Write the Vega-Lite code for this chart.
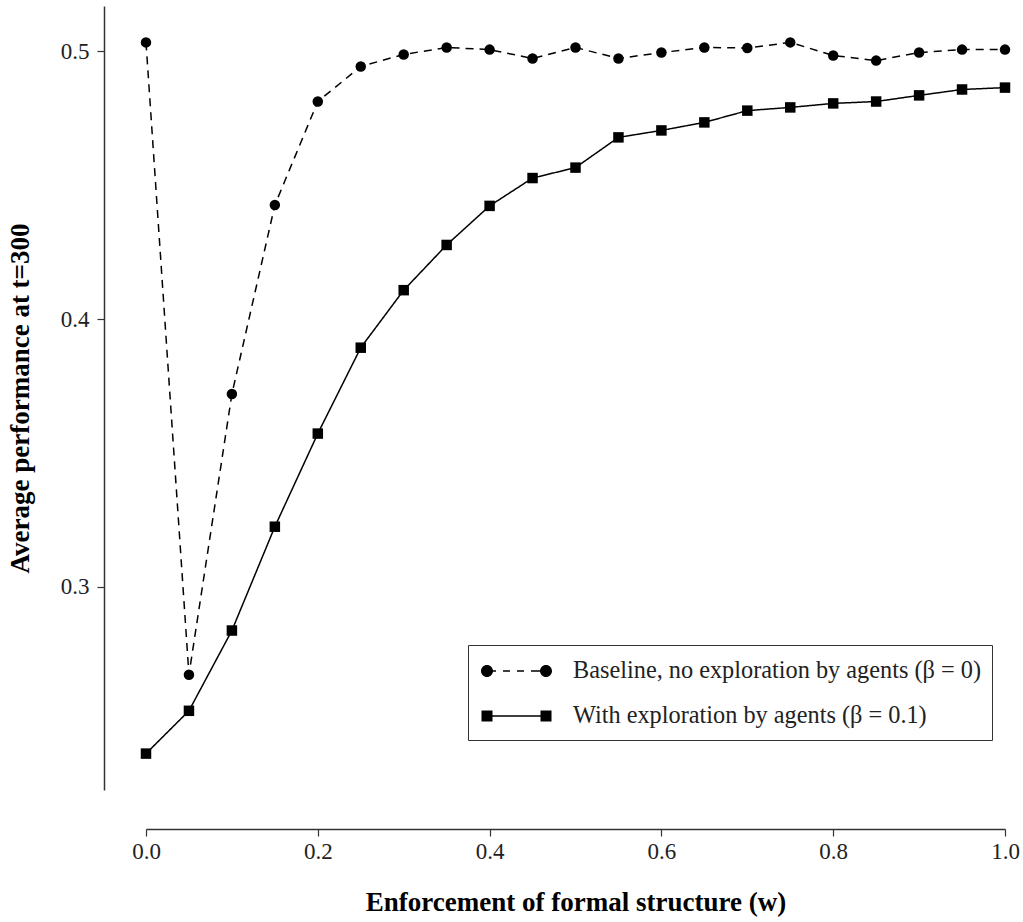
{
  "$schema": "https://vega.github.io/schema/vega-lite/v6.json",
  "width": 859,
  "height": 784,
  "autosize": {"type": "none"},
  "padding": {"left": 146, "top": 6, "right": 18, "bottom": 132},
  "background": "white",
  "config": {
    "view": {"stroke": null},
    "font": "Liberation Serif",
    "axis": {
      "grid": false,
      "domainColor": "#333333",
      "domainWidth": 1.5,
      "tickColor": "#333333",
      "tickWidth": 1.2,
      "tickSize": 7,
      "labelFont": "Liberation Serif",
      "labelFontSize": 23,
      "labelColor": "#222222",
      "labelFlush": false,
      "titleFont": "Liberation Serif",
      "titleFontSize": 27,
      "titleFontWeight": "bold",
      "titleColor": "black"
    }
  },
  "data": {
    "values": [
      {"w": 0.00, "series": "Baseline, no exploration by agents (β = 0)", "perf": 0.5034},
      {"w": 0.05, "series": "Baseline, no exploration by agents (β = 0)", "perf": 0.2671},
      {"w": 0.10, "series": "Baseline, no exploration by agents (β = 0)", "perf": 0.3720},
      {"w": 0.15, "series": "Baseline, no exploration by agents (β = 0)", "perf": 0.4426},
      {"w": 0.20, "series": "Baseline, no exploration by agents (β = 0)", "perf": 0.4813},
      {"w": 0.25, "series": "Baseline, no exploration by agents (β = 0)", "perf": 0.4944},
      {"w": 0.30, "series": "Baseline, no exploration by agents (β = 0)", "perf": 0.4989},
      {"w": 0.35, "series": "Baseline, no exploration by agents (β = 0)", "perf": 0.5015},
      {"w": 0.40, "series": "Baseline, no exploration by agents (β = 0)", "perf": 0.5007},
      {"w": 0.45, "series": "Baseline, no exploration by agents (β = 0)", "perf": 0.4974},
      {"w": 0.50, "series": "Baseline, no exploration by agents (β = 0)", "perf": 0.5015},
      {"w": 0.55, "series": "Baseline, no exploration by agents (β = 0)", "perf": 0.4974},
      {"w": 0.60, "series": "Baseline, no exploration by agents (β = 0)", "perf": 0.4996},
      {"w": 0.65, "series": "Baseline, no exploration by agents (β = 0)", "perf": 0.5015},
      {"w": 0.70, "series": "Baseline, no exploration by agents (β = 0)", "perf": 0.5013},
      {"w": 0.75, "series": "Baseline, no exploration by agents (β = 0)", "perf": 0.5034},
      {"w": 0.80, "series": "Baseline, no exploration by agents (β = 0)", "perf": 0.4985},
      {"w": 0.85, "series": "Baseline, no exploration by agents (β = 0)", "perf": 0.4966},
      {"w": 0.90, "series": "Baseline, no exploration by agents (β = 0)", "perf": 0.4996},
      {"w": 0.95, "series": "Baseline, no exploration by agents (β = 0)", "perf": 0.5007},
      {"w": 1.00, "series": "Baseline, no exploration by agents (β = 0)", "perf": 0.5007},
      {"w": 0.00, "series": "With exploration by agents (β = 0.1)", "perf": 0.2376},
      {"w": 0.05, "series": "With exploration by agents (β = 0.1)", "perf": 0.2536},
      {"w": 0.10, "series": "With exploration by agents (β = 0.1)", "perf": 0.2836},
      {"w": 0.15, "series": "With exploration by agents (β = 0.1)", "perf": 0.3224},
      {"w": 0.20, "series": "With exploration by agents (β = 0.1)", "perf": 0.3572},
      {"w": 0.25, "series": "With exploration by agents (β = 0.1)", "perf": 0.3893},
      {"w": 0.30, "series": "With exploration by agents (β = 0.1)", "perf": 0.4108},
      {"w": 0.35, "series": "With exploration by agents (β = 0.1)", "perf": 0.4277},
      {"w": 0.40, "series": "With exploration by agents (β = 0.1)", "perf": 0.4423},
      {"w": 0.45, "series": "With exploration by agents (β = 0.1)", "perf": 0.4527},
      {"w": 0.50, "series": "With exploration by agents (β = 0.1)", "perf": 0.4566},
      {"w": 0.55, "series": "With exploration by agents (β = 0.1)", "perf": 0.4679},
      {"w": 0.60, "series": "With exploration by agents (β = 0.1)", "perf": 0.4705},
      {"w": 0.65, "series": "With exploration by agents (β = 0.1)", "perf": 0.4735},
      {"w": 0.70, "series": "With exploration by agents (β = 0.1)", "perf": 0.4779},
      {"w": 0.75, "series": "With exploration by agents (β = 0.1)", "perf": 0.4791},
      {"w": 0.80, "series": "With exploration by agents (β = 0.1)", "perf": 0.4806},
      {"w": 0.85, "series": "With exploration by agents (β = 0.1)", "perf": 0.4813},
      {"w": 0.90, "series": "With exploration by agents (β = 0.1)", "perf": 0.4836},
      {"w": 0.95, "series": "With exploration by agents (β = 0.1)", "perf": 0.4858},
      {"w": 1.00, "series": "With exploration by agents (β = 0.1)", "perf": 0.4865}
    ]
  },
  "encoding": {
    "x": {
      "field": "w",
      "type": "quantitative",
      "scale": {"domain": [0, 1], "nice": false, "zero": false},
      "axis": {
        "title": "Enforcement of formal structure (w)",
        "values": [0, 0.2, 0.4, 0.6, 0.8, 1.0],
        "format": ".1f",
        "offset": 39,
        "labelPadding": 4,
        "titlePadding": 26
      }
    },
    "y": {
      "field": "perf",
      "type": "quantitative",
      "scale": {"domain": [0.224, 0.517], "nice": false, "zero": false},
      "axis": {
        "title": "Average performance at t=300",
        "values": [0.3, 0.4, 0.5],
        "format": ".1f",
        "offset": 42,
        "labelPadding": 8,
        "titlePadding": 26
      }
    }
  },
  "resolve": {"scale": {"shape": "independent"}},
  "layer": [
    {
      "mark": {"type": "line", "color": "black", "strokeWidth": 1.5},
      "encoding": {
        "strokeDash": {
          "field": "series",
          "type": "nominal",
          "scale": {
            "domain": ["Baseline, no exploration by agents (β = 0)", "With exploration by agents (β = 0.1)"],
            "range": [[8, 6], [1, 0]]
          },
          "legend": null
        }
      }
    },
    {
      "mark": {"type": "point", "filled": true, "color": "black", "opacity": 1, "size": 110},
      "encoding": {
        "shape": {
          "field": "series",
          "type": "nominal",
          "scale": {
            "domain": ["Baseline, no exploration by agents (β = 0)", "With exploration by agents (β = 0.1)"],
            "range": ["circle", "square"]
          },
          "legend": null
        }
      }
    },
    {
      "mark": {"type": "point", "filled": true, "color": "black", "opacity": 0},
      "encoding": {
        "shape": {
          "field": "series",
          "type": "nominal",
          "scale": {
            "domain": ["Baseline, no exploration by agents (β = 0)", "With exploration by agents (β = 0.1)"],
            "range": [
              "M-0.867,0A0.4,0.4 0 1,1 -0.067,0A0.4,0.4 0 1,1 -0.867,0Z M-0.467,-0.05H0.133V0.05H-0.467Z M0.6,-0.05H1.067V0.05H0.6Z M1.533,-0.05H2V0.05H1.533Z M2.467,-0.05H3.467V0.05H2.467Z M3.067,0A0.4,0.4 0 1,1 3.867,0A0.4,0.4 0 1,1 3.067,0Z",
              "M-0.834,-0.367H-0.1V0.367H-0.834Z M-0.467,-0.05H3.467V0.05H-0.467Z M3.1,-0.367H3.834V0.367H3.1Z"
            ]
          },
          "legend": {
            "title": null,
            "orient": "none",
            "legendX": 322,
            "legendY": 639,
            "strokeColor": "#333333",
            "padding": 11,
            "symbolSize": 900,
            "symbolOpacity": 1,
            "symbolFillColor": "black",
            "symbolStrokeWidth": 0,
            "rowPadding": 17,
            "labelOffset": 64,
            "labelFont": "Liberation Serif",
            "labelFontSize": 24.3,
            "labelColor": "#222222",
            "labelLimit": 600
          }
        }
      }
    }
  ]
}
